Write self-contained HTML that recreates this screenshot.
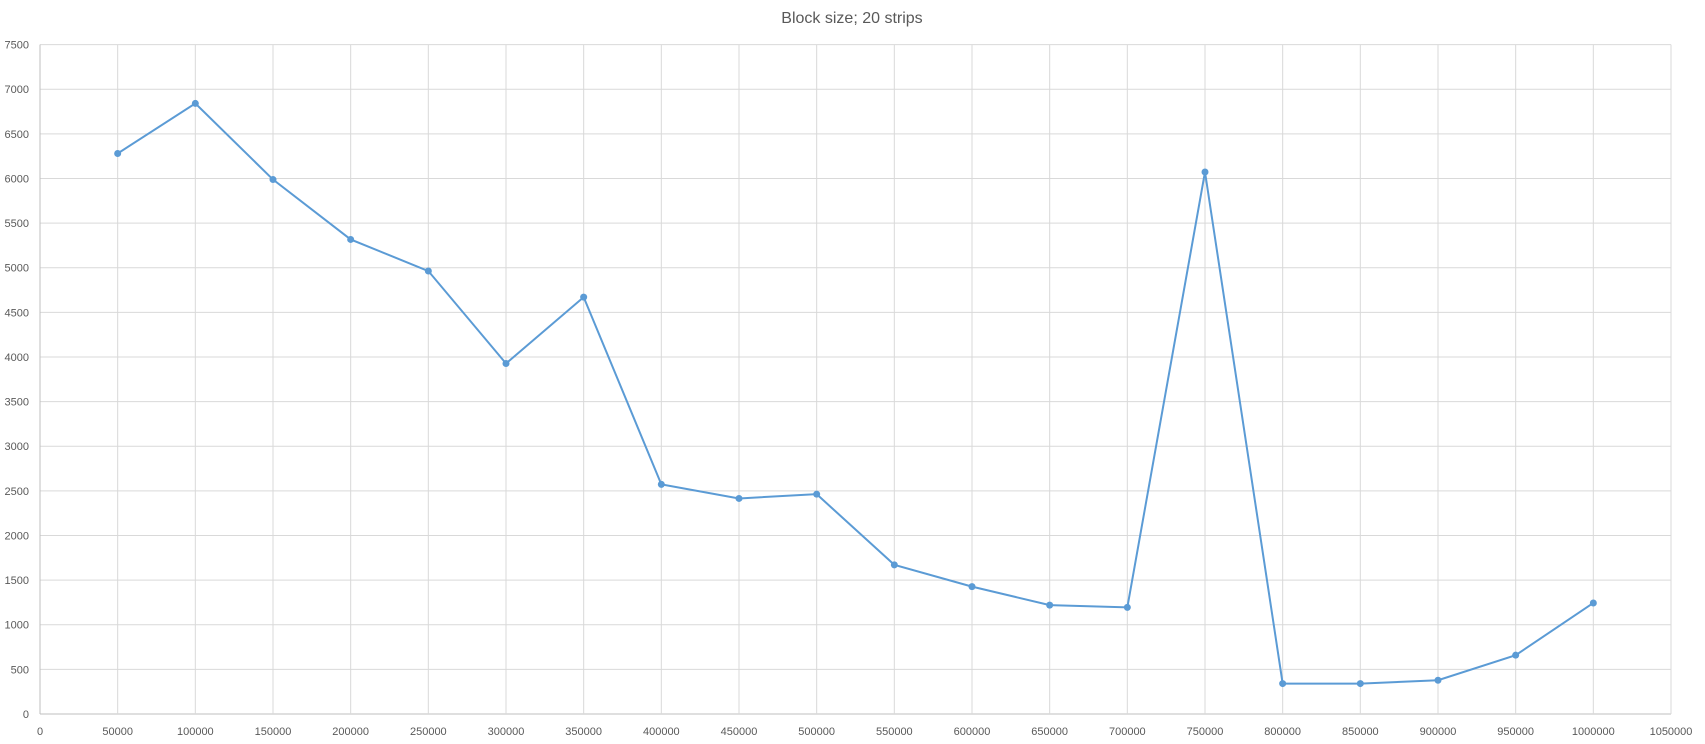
<!DOCTYPE html>
<html><head><meta charset="utf-8"><style>
body{margin:0;background:#fff;}
svg{display:block;font-family:"Liberation Sans",sans-serif;}
</style></head><body>
<svg id="chart" width="1705" height="744">
<text x="852" y="23" text-anchor="middle" font-size="16" fill="#595959">Block size; 20 strips</text>
<g id="grid"></g><g id="axes"></g><g id="series"></g>
</svg>
<script>
const xValues=[50000,100000,150000,200000,250000,300000,350000,400000,450000,500000,550000,600000,650000,700000,750000,800000,850000,900000,950000,1000000];
const yValues=[6280,6841,5988,5317,4963,3927,4671,2573,2415,2463,1671,1427,1220,1195,6073,341,341,378,659,1244];
const xTicks=[0,50000,100000,150000,200000,250000,300000,350000,400000,450000,500000,550000,600000,650000,700000,750000,800000,850000,900000,950000,1000000,1050000];
const yTicks=[0,500,1000,1500,2000,2500,3000,3500,4000,4500,5000,5500,6000,6500,7000,7500];
const X0=40,X1=1671,Y0=714,Y1=44.6;
function sx(v){return X0+(X1-X0)*v/1050000;}
function sy(v){return Y0-(Y0-Y1)*v/7500;}
const NS="http://www.w3.org/2000/svg";
function mk(t,a,p){const e=document.createElementNS(NS,t);for(const k in a)e.setAttribute(k,a[k]);p.appendChild(e);return e;}
const grid=document.getElementById('grid'),axes=document.getElementById('axes'),series=document.getElementById('series');
yTicks.forEach(v=>{
 const l=mk('line',{x1:X0,x2:X1,y1:sy(v),y2:sy(v),stroke:v===0?'#bfbfbf':'#d9d9d9','stroke-width':1},grid);
 
 
 const t=mk('text',{x:X0-11,y:sy(v)+4,'text-anchor':'end','font-size':11,fill:'#595959'},axes);
 t.textContent=v;
 
 
});
xTicks.forEach(v=>{
 const l=mk('line',{x1:sx(v),x2:sx(v),y1:Y1,y2:Y0,stroke:v===0?'#bfbfbf':'#d9d9d9','stroke-width':1},grid);
 
 
 const t=mk('text',{x:sx(v),y:Y0+21,'text-anchor':'middle','font-size':11,fill:'#595959'},axes);
 t.textContent=v;
 
 
});
const pts=xValues.map((x,i)=>sx(x)+','+sy(yValues[i])).join(' ');
const pl=mk('polyline',{points:pts,fill:'none',stroke:'#5b9bd5','stroke-width':2},series);


xValues.forEach((x,i)=>{
 const c=mk('circle',{cx:sx(x),cy:sy(yValues[i]),r:3.5,fill:'#5b9bd5'},series);
 
 
});
</script>
</body></html>
